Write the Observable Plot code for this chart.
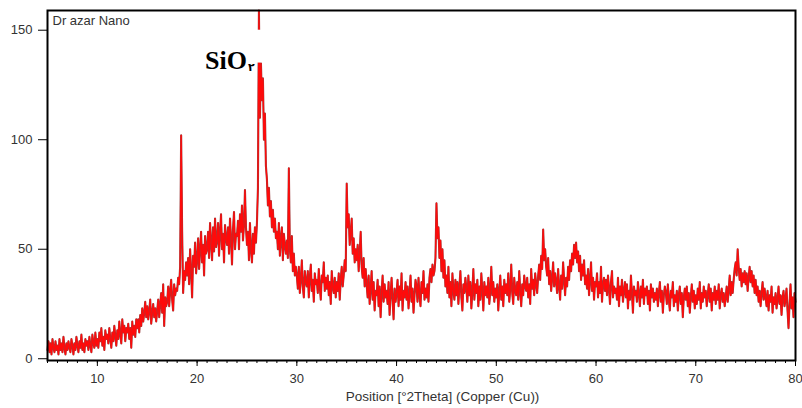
<!DOCTYPE html>
<html>
<head>
<meta charset="utf-8">
<script src="https://cdn.jsdelivr.net/npm/d3@7"></script>
<script src="https://cdn.jsdelivr.net/npm/@observablehq/plot@0.6"></script>
<style>
  html, body { margin: 0; padding: 0; background: #fff; }
  #chart svg { display: block; }
</style>
</head>
<body>
<div id="chart"></div>
<script>
// Scan start / step of the pattern (°2θ)
const startAngle = 5;
const stepAngle = 0.1;

// Intensity (counts), one row per degree (5.0 … 80.0)
const intensity = [
  4,8,3,7,2,9,5,3,8,4,
  6,2,9,4,7,3,10,5,2,7,
  4,8,5,3,9,6,2,7,4,10,
  6,3,8,5,11,4,7,3,9,6,
  8,4,10,6,3,11,7,5,12,6,
  9,5,12,8,14,6,10,4,13,9,
  11,7,14,9,5,12,8,15,10,6,
  13,9,17,11,7,18,12,15,8,14,
  12,16,9,14,5,17,11,15,10,18,
  14,18,12,20,15,23,17,21,26,19,
  24,18,22,27,16,21,25,19,23,17,
  22,27,19,25,30,21,34,15,28,24,
  26,33,24,31,36,27,22,34,29,32,
  31,37,34,42,102,58,30,40,36,44,
  38,46,34,50,40,28,47,42,53,39,
  45,55,41,50,58,44,52,38,56,48,
  50,58,46,62,53,45,60,49,64,51,
  54,62,47,58,66,50,57,44,61,55,
  52,60,48,64,55,43,59,67,50,57,
  56,63,50,66,58,70,54,61,77,60,
  52,58,45,62,50,44,57,48,60,53,
  62,78,159,110,135,118,128,100,112,88,
  82,70,78,65,72,60,68,58,64,55,
  58,50,62,47,55,60,45,57,52,48,
  54,46,87,50,44,56,40,48,38,42,
  38,32,42,30,36,45,33,28,40,35,
  33,40,28,37,43,31,36,26,39,34,
  36,30,41,33,27,38,35,44,31,37,
  32,38,29,35,25,40,33,30,37,28,
  35,31,39,27,36,42,33,38,45,40,
  80,60,66,52,57,64,48,55,44,50,
  45,52,40,48,58,42,37,46,33,41,
  34,28,38,25,32,40,27,35,22,31,
  29,36,24,33,19,30,38,26,34,28,
  31,25,35,20,29,37,27,18,32,26,
  30,36,24,33,27,39,22,31,28,35,
  27,33,23,30,38,26,32,21,29,36,
  33,26,37,29,24,35,30,40,27,32,
  28,34,26,37,41,35,43,38,40,46,
  71,55,60,46,54,40,50,37,45,33,
  38,30,42,28,35,24,39,31,27,36,
  29,35,25,33,40,28,22,34,30,37,
  32,26,38,29,35,23,31,41,27,34,
  30,36,24,33,27,39,31,22,35,29,
  33,28,37,25,31,42,29,35,26,32,
  28,34,22,31,38,27,33,24,36,30,
  34,29,39,26,32,43,30,25,37,31,
  29,35,27,40,31,24,34,29,38,33,
  31,37,28,34,25,41,32,36,29,39,
  34,30,38,43,36,47,41,59,45,50,
  42,38,46,34,40,31,37,44,33,39,
  35,30,41,33,27,38,32,44,36,29,
  37,33,42,36,45,40,48,43,52,46,
  53,44,49,40,47,36,43,38,45,34,
  38,32,41,29,36,44,31,37,27,35,
  33,39,28,35,30,42,26,34,37,31,
  36,29,38,32,25,35,40,28,33,30,
  32,27,37,24,33,29,36,26,31,35,
  28,34,23,31,27,38,30,21,33,29,
  31,26,35,30,24,33,28,36,25,32,
  29,33,25,31,22,34,28,32,26,30,
  27,32,24,30,35,26,31,21,29,33,
  30,25,34,27,22,31,28,35,24,29,
  26,31,22,29,33,25,30,19,28,32,
  27,33,24,30,21,28,34,26,31,23,
  29,25,32,27,35,23,30,26,33,28,
  31,24,29,34,26,32,22,30,27,33,
  25,31,27,34,23,29,32,26,30,24,
  28,33,26,31,38,29,35,30,36,41,
  44,38,50,42,36,41,33,39,35,40,
  34,39,31,37,42,35,40,33,38,30,
  36,29,33,26,31,24,30,35,27,32,
  28,24,31,22,29,26,33,21,28,25,
  30,23,27,33,25,29,20,28,31,24,
  27,32,22,14,25,34,23,28,19,30,
  26
];

// Axis ticks and texts
const xMajorTicks = [10, 20, 30, 40, 50, 60, 70, 80];
const xMinorTicks = d3.range(5, 81, 1);
const yTicks = [0, 50, 100, 150];
const xTitle = "Position [°2Theta] (Copper (Cu))";
const sampleName = "Dr azar Nano";
const peakLabel = "SiO";
const peakLabelSub = "۲";
const peakLabelPos = {x: 20.8, y: 132.4};
const peakSubPos = {x: 25.1, y: 131.6};
const labelMask = {x1: 25.5, x2: 27.0, y1: 135, y2: 150};

const data = intensity.map((v, i) => ({theta: startAngle + i * stepAngle, counts: v}));

const chart = Plot.plot({
  width: 802,
  height: 408,
  marginLeft: 47,
  marginRight: 7,
  marginTop: 10,
  marginBottom: 48,
  style: {fontFamily: "'Liberation Sans', Arial, sans-serif", fontSize: "13px", color: "#333", background: "#fff"},
  x: {domain: [5, 80]},
  y: {domain: [-0.8, 159]},
  marks: [
    Plot.line(data, {x: "theta", y: "counts", stroke: "#9a4040", strokeWidth: 2.1}),
    Plot.line(data, {x: "theta", y: "counts", stroke: "#ff0a0a", strokeWidth: 1.3}),
    Plot.rect([labelMask], {x1: "x1", x2: "x2", y1: "y1", y2: "y2", fill: "#fff"}),
    Plot.text([peakLabel], {x: () => peakLabelPos.x, y: () => peakLabelPos.y, text: d => d, textAnchor: "start", lineAnchor: "bottom", fontFamily: "'Liberation Serif', 'Times New Roman', serif", fontWeight: "bold", fontSize: 26, fill: "#000"}),
    Plot.text([peakLabelSub], {x: () => peakSubPos.x, y: () => peakSubPos.y, text: d => d, textAnchor: "start", lineAnchor: "bottom", fontFamily: "'DejaVu Sans', sans-serif", fontWeight: "bold", fontSize: 11, fill: "#000"}),
    Plot.text([sampleName], {frameAnchor: "top-left", dx: 5, dy: 10, text: d => d, textAnchor: "start", lineAnchor: "middle", fill: "#333", fontSize: 13}),
    Plot.axisX({ticks: xMinorTicks, tickSize: 3, text: null, label: null, stroke: "#000"}),
    Plot.axisX({ticks: xMajorTicks, tickSize: 6, tickPadding: 7, label: null, stroke: "#000", fill: "#333", fontSize: 13}),
    Plot.axisY({ticks: yTicks, tickSize: 9, tickPadding: 6, label: null, stroke: "#000", fill: "#333", fontSize: 13}),
    Plot.text([xTitle], {frameAnchor: "bottom", dx: 21, dy: 36, text: d => d, lineAnchor: "middle", fill: "#333", fontSize: 13.5}),
    Plot.frame({stroke: "#000", strokeWidth: 2})
  ]
});

document.getElementById("chart").appendChild(chart);
</script>
</body>
</html>
